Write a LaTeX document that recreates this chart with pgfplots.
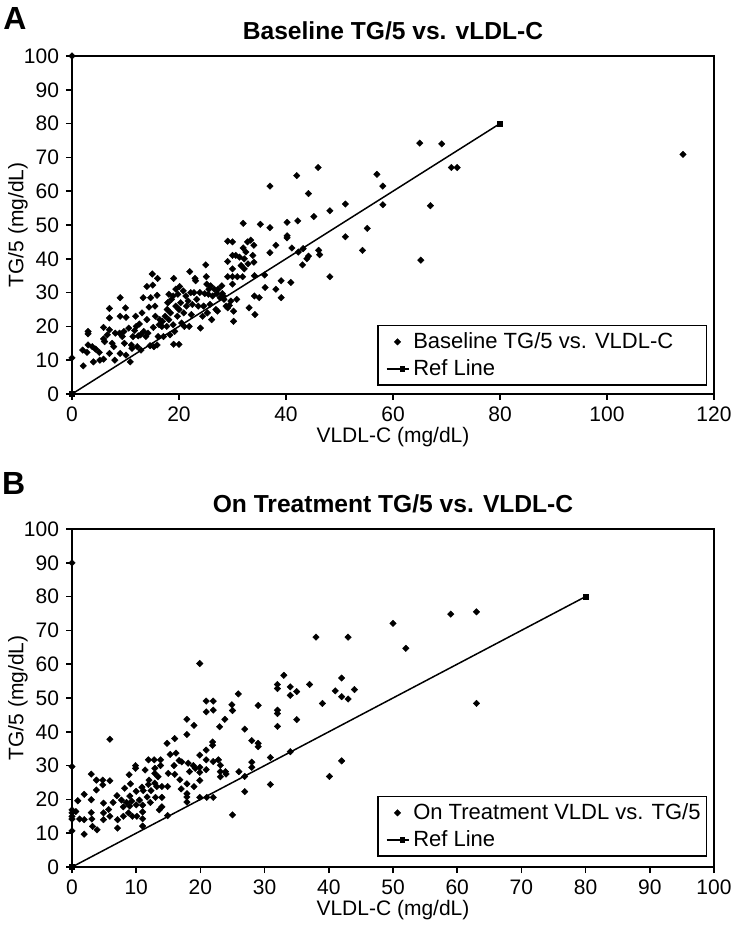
\documentclass[border=0pt]{standalone}
\usepackage{fontspec}
\setmainfont{Liberation Sans}
\usepackage{pgfplots}
\pgfplotsset{compat=1.18}
\usepackage{pgfplotstable}

\pgfplotstableread{
x y
0 100
0 10.7
2.1 8.3
2 13
2.8 12.3
3 14.5
3 18.5
3 17.8
3.8 14
4 9.5
4.4 13.3
5.1 12.3
5.2 10
5.9 10.3
5.9 16.3
5.9 19.7
6.1 15.5
6.6 17.5
7 19
7 22.5
7 25.3
7 12
7.5 15
7.8 14
8 10
8.1 18
8.9 18
9 28.5
9 23
9 12
9.4 17
9.7 18.5
9.8 15
10 25.5
10.1 22.7
10.1 11.5
10.6 19.5
10.9 9.5
11.1 14.5
11.2 13.5
11.4 17
11.7 18.8
11.9 23
12 20
12.2 14
12.4 17.2
12.6 20.7
12.8 17.5
12.9 13
13.1 24
13.3 28.5
13.4 18.5
13.8 17
14 22
14 31.8
14.2 18
14.4 25.7
14.6 14.3
14.7 28.5
15 35.5
15.1 32.2
15.2 19.7
15.3 14
15.5 26
15.6 23
15.9 29.2
15.9 14.5
16 34.2
16.1 17
16.3 20.5
16.4 22
16.8 20
16.9 21.5
17.1 17
17.4 23
17.7 20
17.8 25
17.9 27
18.1 29.5
18.1 22
18.3 17.5
18.4 24
18.6 28
18.9 29
18.9 20.5
19 34.2
19 14.7
19.2 18.5
19.4 26
19.4 31
19.7 23
19.8 29.5
20 14.7
20 25
20.1 31.8
20.3 27
20.5 21
20.8 30.5
20.9 24
21 20
21.3 29
21.4 26
21.7 27.5
21.9 20
22 36.2
22.2 30
22.3 23.5
22.5 26.5
22.8 30
23 34.2
23.1 33.5
23.3 28
23.6 26
23.9 30
24 19.5
24.4 23
24.6 26
24.8 29.7
25 38.2
25.1 34.7
25.2 32.5
25.3 24
25.5 29.5
25.6 31
25.8 26.5
25.9 32
26.1 22
26.3 29
26.6 31
26.9 25
27.1 29.7
27.2 24.5
27.3 31
27.7 28.5
28 32
28.1 29.7
28.3 29
28.4 28
28.8 26
29.1 45.2
29.1 39.2
29.1 34.7
29.1 25.5
29.4 26.2
29.7 27.5
30 45
30 41
30 37
30 34.7
30 32.5
30.2 24.5
30.2 21.5
30.6 41
30.8 28
30.9 34.7
31.3 40.5
31.6 38
31.9 34.7
32 50.5
32 43.2
32.2 40
32.2 37
32.5 42
32.8 45
32.9 38.5
33.1 25.5
33.4 45.5
33.8 41
34 44
34 39
34.1 35
34.1 29
34.2 23.5
35 28.5
35.2 50.2
36 35.2
36.1 31.5
37 61.5
37 49.2
37 41.8
38.1 44
38.1 31
39.1 33.5
39.1 28.5
40.2 50.8
40.2 46.8
40.2 46.2
40.9 33
41.1 43.2
42 64.6
42.2 51.2
42.3 42
43.1 38.2
43.2 43
43.9 40
44.2 40.8
44.2 59.3
45.2 52.5
46 67
46.1 42.5
46.3 41.2
48.2 54.2
48.2 34.7
51.1 56.2
51.1 46.5
54.3 42.5
55.2 49
57 65
58.1 61.5
58.1 56
65 74.2
65.2 39.6
67 55.7
69.1 74
70.9 67
72 67
114.2 70.9
}\dataA

\pgfplotstableread{
x y
0 90
0 29.7
0 10.7
0 16.9
0 16
0 15
0 14.2
0.6 16.4
0.9 19.6
1.2 14.2
1.9 21.5
1.9 14
1.9 9.7
3 27.5
3 19.9
3 16.1
3.1 14.2
3.2 12
3.8 22.8
3.8 25.7
4.8 25.7
5.9 25.5
3.9 11
4.8 24.3
4.9 18.9
4.9 16
4.9 14
5.9 37.8
5.7 17
5.9 15
6.4 19.1
7 21.1
7.1 14
7.1 11.5
7.7 19.8
8 17.8
8 15
8.2 23.3
8.5 19.1
8.8 16
8.9 27.3
9 21
9 18
9.1 24.6
9.3 19.5
9.4 15
9.9 30
9.9 29.2
10 22.4
10 18.4
10.1 15
10.5 19.8
10.9 23.6
11 18.3
11 16.3
11 14.3
11 12.1
11.1 22.6
11.4 28.7
11.7 20.7
11.9 31.7
11.9 24.4
12 25.7
12.2 19.1
12.3 22.6
12.8 31.7
12.9 29.2
12.9 27.7
12.9 24.8
13 20.6
13.2 23.8
13.4 26.7
13.6 16.9
13.8 31.7
13.8 30
14 23.8
14 20.6
14 17.8
14.8 36.6
14.9 23.8
14.9 15.2
15 27.7
15.3 33.3
15.9 30
16 38
16 27.4
16.2 33.7
16.7 31.5
16.8 25.8
17.1 31.1
17 23.1
17.9 43.7
17.9 39.2
17.9 24.6
17.9 21.7
17.9 20.7
17.9 19.2
18.1 30.7
18.3 28.2
18.9 30
19 41.9
19 23.8
19.2 29.2
19.9 60.2
19.9 33.1
19.9 29.5
19.9 28
19.9 25.6
19.9 20.6
20.9 49.1
22 49.1
20.9 45.9
22 46.4
20.9 34.6
20.9 31.7
20.9 28.8
21 20.6
21.9 37
21.9 36
22 31.2
22 20.6
22.8 31.7
23.1 30.1
23 41.5
23.1 28.2
23.1 26.7
23.8 43.7
23.9 28.2
24 27.5
24.9 48
25 46.3
25 15.4
25.9 51.2
26 28.2
26.9 40.8
26.9 26.8
26.9 22.3
28 37.4
28 31
28 29.5
29 47.8
29 36.6
29 35.6
30.9 32.4
30.9 24.4
32 54
32 52.8
32 46.4
32 45.4
32 41.6
33 56.7
34 53.3
34 50.8
34 34.1
35 51.9
35 43.6
37 54
38 68
39 48.4
40.1 26.8
41 52.1
42 55.9
42 50.4
42 31.4
43 68
43 49.7
44 52.5
50 72.1
52 64.7
59 74.8
63 75.5
63 48.4
}\dataB

\newcommand{\legtext}[1]{\makebox[143bp][l]{#1}}

\pgfplotsset{
  panel/.style={
    width=321bp, height=169bp, scale only axis,
    anchor=south west,
    ymin=0, ymax=100, ytick={0,10,...,100},
    axis line style={line width=0.75bp},
    every tick/.style={black, line width=0.75bp},
    tick align=outside, major tick length=3bp,
    xtick pos=left, ytick pos=left,
    /pgf/number format/assume math mode=true,
    tick label style={font=\fontsize{10.5bp}{12bp}\selectfont},
    label style={font=\fontsize{10.5bp}{12bp}\selectfont},
    xlabel style={at={([yshift=-21.5bp]axis description cs:0.5,0)}, anchor=center},
    ylabel style={at={([xshift=-27bp]axis description cs:0,0.5)}, anchor=center},
    every axis title shift=0pt,
    title style={font=\fontsize{12.3bp}{14bp}\selectfont\bfseries,
      at={([yshift=12.7bp]axis description cs:0.5,1)}, anchor=center},
    legend style={font=\fontsize{11bp}{13bp}\selectfont, draw=black, line width=0.75bp,
      at={([xshift=-3.5bp,yshift=4bp]axis description cs:1,0)}, anchor=south east,
      inner sep=1.5bp, row sep=0bp},
    legend cell align=left,
    xlabel={VLDL-C (mg/dL)}, ylabel={TG/5 (mg/dL)},
  },
  pts/.style={only marks, mark=square*, mark size=1.15bp, black,
    mark options={rotate=45, line width=0.2bp},
    legend image code/.code={\path (0bp,0bp); \draw plot coordinates {(8bp,0bp)};}},
  refl/.style={black, line width=0.75bp, mark=square*, mark size=1.1bp,
    legend image code/.code={\path (0bp,0bp); \draw[mark=none] (2.5bp,0bp) -- (13.5bp,0bp);
      \draw plot coordinates {(10.5bp,0bp)};}},
}

\begin{document}
\begin{tikzpicture}
\useasboundingbox (0,0) rectangle (367bp,465.5bp);
\node[font=\fontsize{16bp}{18bp}\selectfont\bfseries] at (7.5bp,456bp) {A};
\node[font=\fontsize{16bp}{18bp}\selectfont\bfseries] at (6.9bp,223.8bp) {B};

\begin{axis}[panel, at={(36bp,268.5bp)},
  xmin=0, xmax=120, xtick={0,20,...,120},
  title={Baseline TG/5 vs. vLDL-C}]
\addplot[pts] table[x=x,y=y] {\dataA};
\addlegendentry{\legtext{Baseline TG/5 vs. VLDL-C}}
\addplot[refl] coordinates {(0,0) (80,80)};
\addlegendentry{\legtext{Ref Line}}
\end{axis}

\begin{axis}[panel, at={(36bp,32bp)},
  xmin=0, xmax=100, xtick={0,10,...,100},
  title={On Treatment TG/5 vs. VLDL-C},
  legend style={at={([xshift=-3.5bp,yshift=5bp]axis description cs:1,0)}}]
\addplot[pts] table[x=x,y=y] {\dataB};
\addlegendentry{\legtext{On Treatment VLDL vs. TG/5}}
\addplot[refl] coordinates {(0,0) (80,80)};
\addlegendentry{\legtext{Ref Line}}
\end{axis}
\end{tikzpicture}
\end{document}
